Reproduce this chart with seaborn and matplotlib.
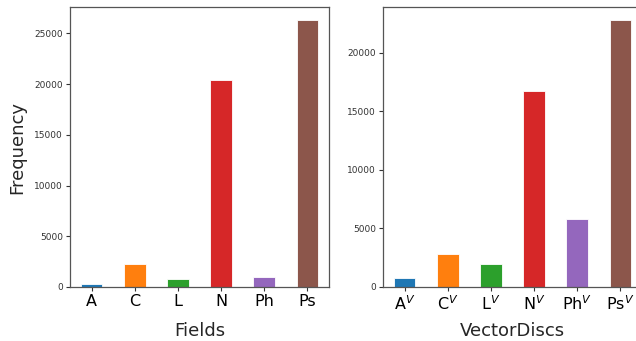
import matplotlib
matplotlib.use("Agg")
import matplotlib.pyplot as plt
import seaborn as sns
import pandas as pd

fields_labels = ["A", "C", "L", "N", "Ph", "Ps"]
fields_values = [260, 2240, 790, 20420, 980, 26290]

vector_labels = ["A$^V$", "C$^V$", "L$^V$", "N$^V$", "Ph$^V$", "Ps$^V$"]
vector_values = [770, 2780, 2000, 16780, 5800, 22780]

colors = ["#1f77b4", "#ff7f0e", "#2ca02c", "#d62728", "#9467bd", "#8c564b"]

sns.set_style("ticks")
plt.rcParams['font.family'] = ['DejaVu Sans']

fig = plt.figure(figsize=(6.36, 3.41), dpi=100)
ax1 = fig.add_axes([70/636, 54/341, 259/636, 280/341])
ax2 = fig.add_axes([383/636, 54/341, 259/636, 280/341])

for ax, labels, values, xlabel in [
    (ax1, fields_labels, fields_values, "Fields"),
    (ax2, vector_labels, vector_values, "VectorDiscs"),
]:
    df = pd.DataFrame({"cat": labels, "val": values})
    sns.barplot(data=df, x="cat", y="val", hue="cat", palette=colors, saturation=1,
                width=0.5, edgecolor="white", linewidth=0.6, legend=False, ax=ax)
    ax.set_xlim(-0.5, 5.5)
    ax.set_ylim(0, max(values) * 1.05)
    ax.set_xlabel(xlabel, fontsize=13)
    ax.xaxis.set_label_coords(0.5, -0.125)
    ax.set_ylabel("")
    ax.tick_params(axis="x", labelsize=11.5, length=3, width=0.8, pad=2, colors="#333333", labelcolor="black")
    ax.tick_params(axis="y", labelsize=6.5, length=3, width=0.8, pad=2, colors="#333333", labelcolor="#333333")
    for s in ax.spines.values():
        s.set_visible(True)
        s.set_color("#555555")
        s.set_linewidth(0.9)

ax1.set_ylabel("Frequency", fontsize=13, labelpad=6)

fig.savefig("out.png", dpi=100)
